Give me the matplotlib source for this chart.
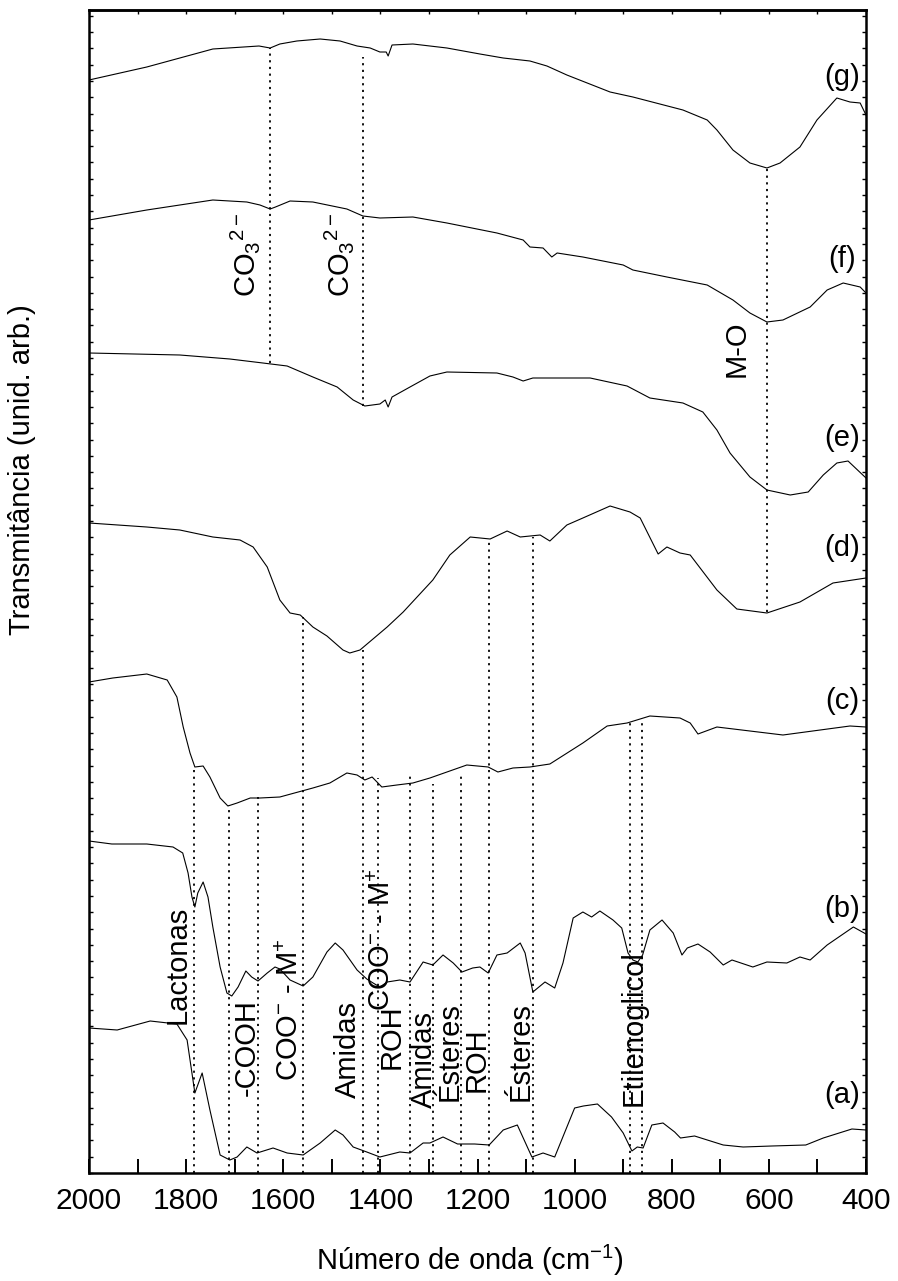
import numpy as np
import matplotlib.pyplot as plt
from matplotlib.ticker import MultipleLocator

plt.rcParams["font.family"] = ["Liberation Sans", "DejaVu Sans"]
plt.rcParams["mathtext.fontset"] = "custom"
plt.rcParams["mathtext.rm"] = "Liberation Sans"
plt.rcParams["mathtext.it"] = "Liberation Sans:italic"
plt.rcParams["mathtext.bf"] = "Liberation Sans:bold"

# ── spectra (wavenumber in cm-1, transmittance in arbitrary offset units) ──
wn_g = [2000, 1881, 1745, 1650, 1627, 1607, 1572, 1524, 1483, 1448, 1421, 1401, 1388, 1384, 1376,
        1333, 1263, 1195, 1147, 1092, 1057, 1016, 927, 880, 777, 727, 707, 674, 639, 604, 577,
        536, 501, 460, 433, 412, 400]
t_g = [109.3, 110.6, 112.4, 112.7, 112.5, 112.9, 113.2, 113.4, 113.2, 112.7, 112.5, 112.1, 112.1,
       111.7, 112.8, 112.9, 112.5, 111.9, 111.5, 111.2, 110.7, 109.8, 108.1, 107.6, 106.3, 105.3,
       104.3, 102.3, 101.0, 100.5, 101.0, 102.6, 105.3, 107.5, 107.1, 107.0, 105.8]

wn_f = [2000, 1881, 1745, 1675, 1648, 1627, 1616, 1586, 1539, 1469, 1436, 1401, 1333, 1263, 1160,
        1106, 1092, 1065, 1047, 1036, 983, 900, 880, 810, 727, 674, 639, 604, 571, 515, 480,
        447, 412, 400]
t_f = [95.3, 96.3, 97.3, 97.1, 96.8, 96.4, 96.6, 97.2, 97.1, 96.4, 95.7, 95.5, 95.6, 95.0, 94.0,
       93.3, 92.6, 92.5, 91.6, 92.0, 91.6, 90.8, 90.3, 89.6, 88.8, 87.3, 86.0, 85.1, 85.3, 86.6,
       88.3, 89.0, 88.6, 88.0]

wn_e = [2000, 1813, 1710, 1642, 1592, 1539, 1489, 1456, 1432, 1401, 1390, 1384, 1376, 1339, 1298,
        1263, 1160, 1127, 1106, 1086, 968, 892, 845, 777, 736, 707, 680, 639, 604, 556, 519,
        488, 460, 437, 400]
t_e = [82.0, 81.8, 81.4, 81.0, 80.7, 79.6, 78.6, 77.3, 76.7, 76.9, 77.3, 76.6, 77.6, 78.6, 79.7,
       80.1, 80.0, 79.6, 79.2, 79.5, 79.5, 78.7, 77.5, 77.0, 76.1, 74.3, 72.0, 69.6, 68.3, 67.8,
       68.1, 69.8, 71.0, 71.2, 69.5]

wn_d = [2000, 1881, 1813, 1745, 1689, 1662, 1633, 1607, 1586, 1565, 1539, 1510, 1477, 1463, 1442,
        1386, 1353, 1292, 1257, 1215, 1174, 1139, 1112, 1071, 1051, 1016, 983, 927, 886, 865,
        828, 810, 783, 762, 707, 666, 604, 536, 468, 400]
t_d = [65.0, 64.6, 64.3, 63.6, 63.3, 62.6, 60.6, 57.3, 56.0, 55.8, 54.6, 53.7, 52.3, 52.0, 52.3,
       54.6, 56.1, 59.3, 61.8, 63.6, 63.4, 64.2, 63.6, 63.8, 63.2, 64.8, 65.5, 66.7, 66.1, 65.5,
       61.9, 62.6, 62.0, 61.8, 58.3, 56.4, 56.0, 57.1, 59.0, 59.5]

wn_c = [2000, 1951, 1881, 1839, 1819, 1806, 1792, 1782, 1765, 1751, 1730, 1714, 1695, 1668, 1648,
        1607, 1539, 1504, 1469, 1448, 1432, 1417, 1397, 1366, 1333, 1298, 1222, 1178, 1158, 1127,
        1092, 1051, 983, 933, 892, 845, 783, 762, 746, 707, 571, 433, 400]
t_c = [49.1, 49.5, 49.9, 49.3, 47.6, 44.6, 42.0, 40.6, 40.7, 39.6, 37.5, 36.7, 37.0, 37.5, 37.5,
       37.6, 38.5, 39.0, 40.0, 39.8, 39.3, 39.6, 38.6, 38.8, 39.0, 39.5, 40.8, 40.6, 40.1, 40.5,
       40.6, 40.9, 43.0, 44.7, 45.0, 45.7, 45.5, 45.0, 43.9, 44.6, 43.8, 44.7, 44.6]

wn_b = [2000, 1953, 1881, 1827, 1807, 1796, 1788, 1782, 1776, 1765, 1755, 1745, 1730, 1716, 1706,
        1693, 1677, 1665, 1652, 1633, 1617, 1607, 1586, 1559, 1539, 1510, 1493, 1477, 1448, 1428,
        1415, 1401, 1386, 1360, 1339, 1312, 1292, 1271, 1250, 1232, 1210, 1195, 1178, 1160, 1139,
        1112, 1102, 1086, 1061, 1041, 1024, 1003, 983, 965, 948, 921, 903, 890, 880, 870, 860,
        845, 820, 797, 779, 768, 746, 721, 694, 676, 633, 604, 563, 536, 515, 480, 426, 400]
t_b = [33.2, 32.9, 32.9, 32.6, 32.0, 30.0, 27.6, 26.6, 28.0, 29.1, 27.6, 24.6, 20.6, 18.0, 17.7,
       18.6, 20.2, 19.6, 19.2, 20.0, 20.6, 20.4, 19.3, 18.7, 19.6, 22.1, 23.0, 22.3, 20.3, 19.4,
       19.0, 18.6, 19.1, 19.3, 19.1, 21.1, 20.8, 21.8, 21.0, 20.1, 20.5, 20.6, 20.0, 21.8, 22.0,
       23.0, 22.0, 18.1, 19.1, 18.5, 21.0, 25.5, 26.1, 25.6, 26.2, 25.3, 24.5, 22.0, 21.3, 21.1,
       21.8, 24.3, 25.3, 24.0, 21.8, 22.5, 22.9, 22.1, 20.8, 21.3, 20.6, 21.1, 21.0, 21.6, 21.3,
       22.8, 24.6, 23.9]

wn_a = [2000, 1942, 1874, 1819, 1798, 1782, 1767, 1751, 1730, 1710, 1695, 1675, 1654, 1621, 1592,
        1559, 1524, 1493, 1477, 1456, 1428, 1401, 1360, 1339, 1312, 1298, 1271, 1241, 1206, 1176,
        1147, 1118, 1088, 1065, 1041, 1000, 982, 953, 924, 900, 882, 871, 859, 841, 818, 794,
        782, 753, 694, 653, 594, 524, 488, 429, 400]
t_a = [14.5, 14.3, 15.2, 14.9, 13.3, 8.0, 10.0, 6.3, 1.8, 1.3, 1.6, 2.6, 2.0, 2.5, 2.0,
       1.8, 3.0, 4.3, 3.8, 2.6, 2.1, 1.6, 2.1, 2.0, 3.0, 3.0, 3.6, 2.9, 2.9, 2.8,
       4.3, 4.8, 1.6, 2.0, 1.6, 6.5, 6.7, 6.9, 5.6, 4.0, 2.2, 2.6, 2.5, 4.8, 5.0, 4.1,
       3.5, 3.7, 2.8, 2.6, 2.7, 2.8, 3.5, 4.4, 4.3]

curve_names = ["(a)", "(b)", "(c)", "(d)", "(e)", "(f)", "(g)"]
name_y = [7.8, 26.4, 47.2, 62.5, 73.5, 91.4, 109.6]

# ── band markers: wavenumber, upper and lower end of the dotted line ──
band_wn = [1627, 1435, 604, 1784, 1712, 1652, 1559, 1435, 1405, 1339, 1292, 1234, 1176, 1086, 886, 861]
band_top = [112.5, 111.6, 100.5, 40.6, 36.8, 37.6, 55.6, 52.3, 39.5, 39.8, 38.9, 39.9, 63.3, 63.6, 45.0, 45.0]
band_bot = [81.0, 76.7, 56.1, 0, 0, 0, 0, 0, 0, 0, 0, 0, 0, 0, 0, 0]

band_text = ["Lactonas", "-COOH", r"COO$^{-}$ - M$^{+}$", "Amidas", r"COO$^{-}$ - M$^{+}$", "ROH",
             "Amidas", "Ésteres", "ROH", "Ésteres", "Etilenoglicol", "M-O",
             r"CO$_3{}^{2-}$", r"CO$_3{}^{2-}$"]
text_wn = [1817, 1675, 1586, 1467, 1397, 1376, 1311, 1258, 1201, 1112, 878, 666, 1679, 1485]
text_y = [20.8, 12.5, 16.3, 12.3, 23.3, 13.6, 11.3, 12.1, 11.3, 12.1, 14.5, 82.4, 91.8, 91.8]

# ── plot ──
fig = plt.figure(figsize=(8.98, 12.81), dpi=100)
ax = fig.add_axes([89 / 898, 1 - 1173 / 1281, (866 - 89) / 898, (1173 - 10) / 1281])

spectra = [(wn_a, t_a), (wn_b, t_b), (wn_c, t_c), (wn_d, t_d), (wn_e, t_e), (wn_f, t_f), (wn_g, t_g)]
for wn, t in spectra:
    ax.plot(wn, t, color="black", lw=0.8)

ax.vlines(band_wn, band_bot, band_top, colors="black", lw=1.3, linestyles=(0, (1.2, 2.5)))

for s, x, y in zip(band_text, text_wn, text_y):
    ax.text(x, y, s, rotation=90, ha="center", va="center", fontsize=21)

for s, y in zip(curve_names, name_y):
    ax.text(449, y, s, ha="center", va="center", fontsize=21)

ax.set_xlim(2000, 400)
ax.set_ylim(0, 116.3)
ax.xaxis.set_major_locator(MultipleLocator(200))
ax.xaxis.set_minor_locator(MultipleLocator(100))
ax.tick_params(axis="x", which="both", direction="in", length=10, width=1.4,
               top=False, labelsize=21.5, pad=10)
ax.yaxis.set_major_locator(MultipleLocator(1.63))
ax.tick_params(axis="y", which="major", direction="in", length=3, width=1.0,
               left=True, right=True, labelleft=False)
for sp in ax.spines.values():
    sp.set_linewidth(1.8)

top = ax.secondary_xaxis("top")
top.xaxis.set_major_locator(MultipleLocator(100))
top.tick_params(direction="in", length=3, width=1.0, labeltop=False)
top.spines["top"].set_linewidth(1.8)

fig.text(470 / 898, 1 - 1260 / 1281, "Número de onda (cm$^{-1}$)", ha="center", va="center", fontsize=21)
fig.text(22 / 898, 1 - 470 / 1281, "Transmitância (unid. arb.)", rotation=90,
         ha="center", va="center", fontsize=21)

plt.savefig("out.png", dpi=100)
plt.close()
